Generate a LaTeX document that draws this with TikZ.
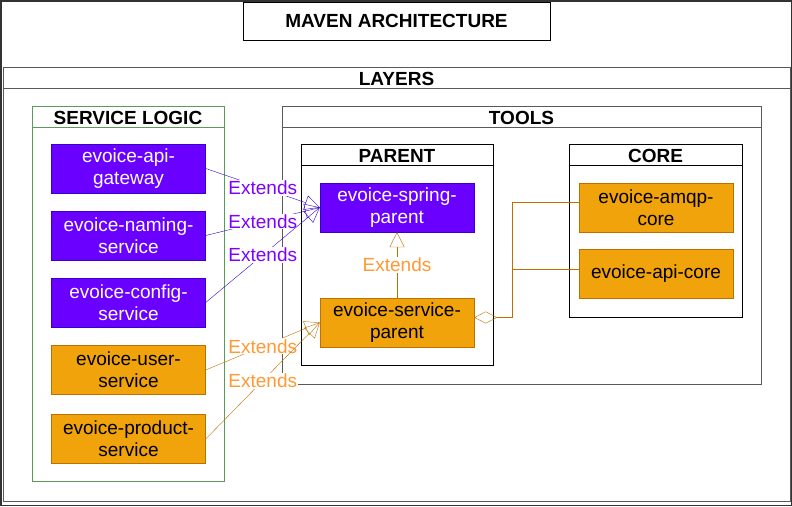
\documentclass[tikz,border=0pt]{standalone}
\usepackage{fontspec}
\setmainfont{Liberation Sans}
\usepackage{xcolor}
\usetikzlibrary{arrows.meta}
\definecolor{purplefill}{HTML}{6A00FF}
\definecolor{purpleline}{HTML}{3700CC}
\definecolor{purpletext}{HTML}{7F00FF}
\definecolor{orangefill}{HTML}{F0A30A}
\definecolor{orangeline}{HTML}{BD7000}
\definecolor{orangetext}{HTML}{FF9933}
\definecolor{greenline}{HTML}{5A9A5A}

\begin{document}
    \begin{tikzpicture}[x=1pt, y=-1pt,
        modbox/.style = {draw, minimum width=154pt, minimum height=49pt, align=center,
            inner sep=0pt, font=\fontsize{19}{22}\selectfont},
        purplebox/.style = {modbox, fill=purplefill, draw=purpleline, text=white},
        orangebox/.style = {modbox, fill=orangefill, draw=orangeline, text=black},
        lane/.style = {draw=black!65, line width=1pt, inner sep=0pt},
        heading/.style = {font=\fontsize{19}{22}\selectfont\bfseries},
        extends/.style = {fill=white, inner sep=1pt, font=\fontsize{19}{22}\selectfont},
        purplearrow/.style = {draw=purpleline, -{Triangle[open, length=15pt, width=15pt]}},
        orangearrow/.style = {draw=orangeline, -{Triangle[open, length=15pt, width=15pt]}},
        aggregate/.style = {draw=orangeline, {Diamond[open, length=23pt, width=12pt]}-}]
        \useasboundingbox (0, 0) rectangle (792, 506);
        \draw[black!80, line width=1.5pt] (0.75, 0.75) rectangle (791.25, 505.25);

        \node[lane, draw=black, heading, minimum width=307pt, minimum height=38pt] (title)
            at (396.5, 21) {MAVEN ARCHITECTURE};

        \node[lane, minimum width=787pt, minimum height=434pt] (layers) at (396.5, 284) {};
        \draw[lane] ([yshift=-22pt]layers.north west) -- ([yshift=-22pt]layers.north east);
        \node[heading] at ([yshift=-12.5pt]layers.north) {LAYERS};

        \node[lane, draw=greenline, minimum width=192pt, minimum height=375pt] (logic) at (128, 293.5) {};
        \draw[lane, draw=greenline] ([yshift=-22pt]logic.north west) -- ([yshift=-22pt]logic.north east);
        \node[heading] at ([yshift=-12.5pt]logic.north) {SERVICE LOGIC};

        \node[lane, minimum width=479pt, minimum height=278pt] (tools) at (521.5, 245) {};
        \draw[lane] ([yshift=-22pt]tools.north west) -- ([yshift=-22pt]tools.north east);
        \node[heading] at ([yshift=-12.5pt]tools.north) {TOOLS};

        \node[lane, draw=black, minimum width=192pt, minimum height=221pt] (parent) at (397, 254.5) {};
        \draw[lane, draw=black] ([yshift=-22pt]parent.north west) -- ([yshift=-22pt]parent.north east);
        \node[heading] at ([yshift=-12.5pt]parent.north) {PARENT};

        \node[lane, draw=black, minimum width=173pt, minimum height=173pt] (core) at (655.5, 230.5) {};
        \draw[lane, draw=black] ([yshift=-22pt]core.north west) -- ([yshift=-22pt]core.north east);
        \node[heading] at ([yshift=-12.5pt]core.north) {CORE};

        \node[purplebox] (gateway) at (128.5, 168.5) {evoice-api-\\gateway};
        \node[purplebox] (naming) at (128.5, 235.5) {evoice-naming-\\service};
        \node[purplebox] (config) at (128.5, 302.5) {evoice-config-\\service};
        \node[orangebox] (user) at (128.5, 370) {evoice-user-\\service};
        \node[orangebox] (product) at (128.5, 439) {evoice-product-\\service};

        \node[purplebox] (springparent) at (397, 207.5) {evoice-spring-\\parent};
        \node[orangebox] (serviceparent) at (397, 322.5) {evoice-service-\\parent};
        \node[orangebox] (amqpcore) at (656, 207.5) {evoice-amqp-\\core};
        \node[orangebox] (apicore) at (656, 274) {evoice-api-core};

        \draw[purplearrow] (gateway.east) -- (springparent.west)
            node[extends, text=purpletext, midway] {Extends};
        \draw[purplearrow] (naming.east) -- (springparent.west)
            node[extends, text=purpletext, midway] {Extends};
        \draw[purplearrow] (config.east) -- (springparent.west)
            node[extends, text=purpletext, midway] {Extends};
        \draw[orangearrow] (user.east) -- (serviceparent.west)
            node[extends, text=orangetext, midway] {Extends};
        \draw[orangearrow] (product.east) -- (serviceparent.west)
            node[extends, text=orangetext, midway] {Extends};
        \draw[orangearrow] (serviceparent.north) -- (springparent.south)
            node[extends, text=orangetext, midway] {Extends};

        \coordinate (corebus) at ([xshift=38pt, yshift=5pt]serviceparent.east);
        \draw[aggregate] ([yshift=5pt]serviceparent.east) -- (corebus) |- ([yshift=5pt]amqpcore.west);
        \draw[orangeline] ([yshift=5pt]apicore.west) -| (corebus);
    \end{tikzpicture}
\end{document}
